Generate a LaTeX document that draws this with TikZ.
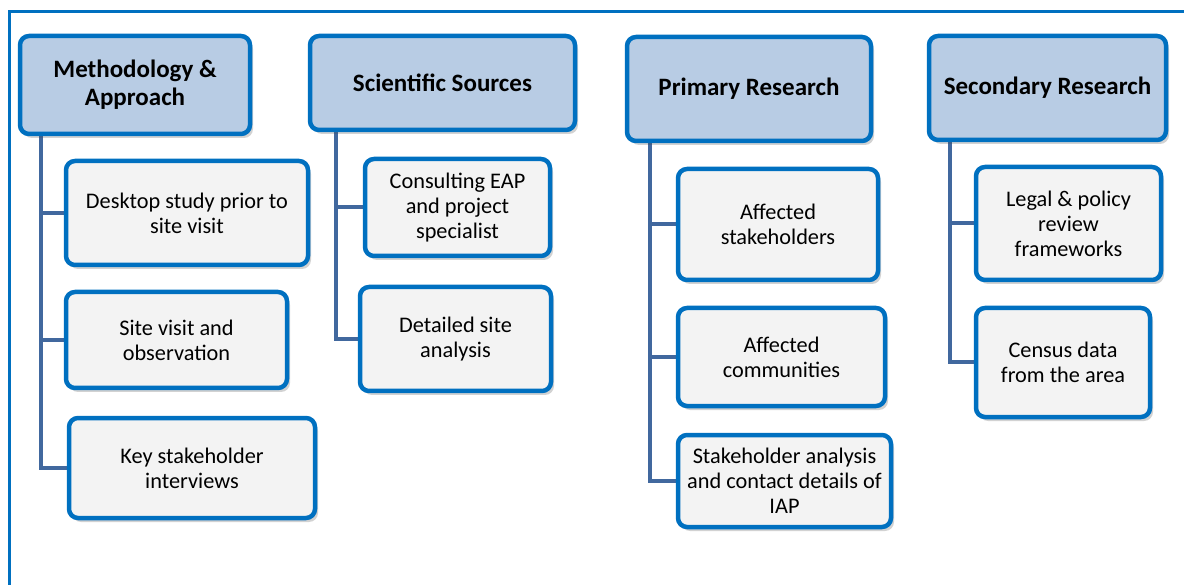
\documentclass[tikz,border=0pt]{standalone}
\usepackage{fontspec}
\setmainfont{Carlito}
\usetikzlibrary{shadows,backgrounds}
\definecolor{frameblue}{HTML}{0070C0}
\definecolor{hdrfill}{HTML}{B8CCE4}
\definecolor{itemfill}{HTML}{F3F3F3}
\definecolor{linkblue}{HTML}{41689E}
\tikzset{
  boxbase/.style={draw=frameblue, line width=4.5pt, rounded corners=9pt,
    align=center, inner sep=2pt,
    drop shadow={shadow xshift=3pt, shadow yshift=-4pt, opacity=.25, fill=black!70}},
  hdr/.style={boxbase, fill=hdrfill, font=\fontsize{25}{28}\selectfont\bfseries},
  item/.style={boxbase, fill=itemfill, font=\fontsize{22.3}{25}\selectfont},
  conn/.style={draw=linkblue, line width=4pt, line join=miter},
  outerframe/.style={draw=frameblue, line width=3pt}
}
\begin{document}
\begin{tikzpicture}[x=1pt, y=-1pt]
\useasboundingbox (0,0) rectangle (1184,585);

% outer frame, open towards the right and bottom
\coordinate (fb) at (9,585);
\coordinate (fc) at (9,12);
\coordinate (fr) at (1184,12);
\draw[outerframe] (fb) -- (fc) -- (fr);

% column headers
\node[hdr, minimum width=230pt, minimum height=98pt]  (meth) at (135,85)    {Methodology \&\\Approach};
\node[hdr, minimum width=265pt, minimum height=94pt]  (sci)  at (442.5,83)  {Scientific Sources};
\node[hdr, minimum width=244pt, minimum height=104pt] (prim) at (749,89)    {Primary Research};
\node[hdr, minimum width=237pt, minimum height=104pt] (sec)  at (1047.5,88) {Secondary Research};

% items of each column
\node[item, minimum width=242pt, minimum height=104pt] (desk) at (187,213)   {Desktop study prior to\\site visit};
\node[item, minimum width=221pt, minimum height=96pt]  (site) at (176.5,340) {Site visit and\\observation};
\node[item, minimum width=246pt, minimum height=100pt] (key)  at (192,468)   {Key stakeholder\\interviews};

\node[item, minimum width=185pt, minimum height=97pt]  (cons) at (457.5,207.5) {Consulting EAP\\and project\\specialist};
\node[item, minimum width=191pt, minimum height=104pt] (det)  at (455.5,339)   {Detailed site\\analysis};

\node[item, minimum width=200pt, minimum height=111pt] (ast)  at (778,224.5) {Affected\\stakeholders};
\node[item, minimum width=207pt, minimum height=98pt]  (acm)  at (781.5,357) {Affected\\communities};
\node[item, minimum width=213pt, minimum height=92pt]  (san)  at (784.5,481) {Stakeholder analysis\\and contact details of\\IAP};

\node[item, minimum width=185pt, minimum height=113pt] (leg)  at (1068.5,223.5) {Legal \& policy\\review\\frameworks};
\node[item, minimum width=174pt, minimum height=109pt] (cen)  at (1063,362.5)   {Census data\\from the area};

% trunk start points below each header
\coordinate (tm) at ([xshift=23pt]meth.south west);
\coordinate (ts) at ([xshift=28pt]sci.south west);
\coordinate (tp) at ([xshift=25pt]prim.south west);
\coordinate (tq) at ([xshift=23pt]sec.south west);

% connectors, kept behind the boxes
\begin{scope}[on background layer]
  \draw[conn] (tm) |- (desk.west);
  \draw[conn] (tm) |- (site.west);
  \draw[conn] (tm) |- (key.west);
  \draw[conn] (ts) |- (cons.west);
  \draw[conn] (ts) |- (det.west);
  \draw[conn] (tp) |- (ast.west);
  \draw[conn] (tp) |- (acm.west);
  \draw[conn] (tp) |- (san.west);
  \draw[conn] (tq) |- (leg.west);
  \draw[conn] (tq) |- (cen.west);
\end{scope}
\end{tikzpicture}
\end{document}
